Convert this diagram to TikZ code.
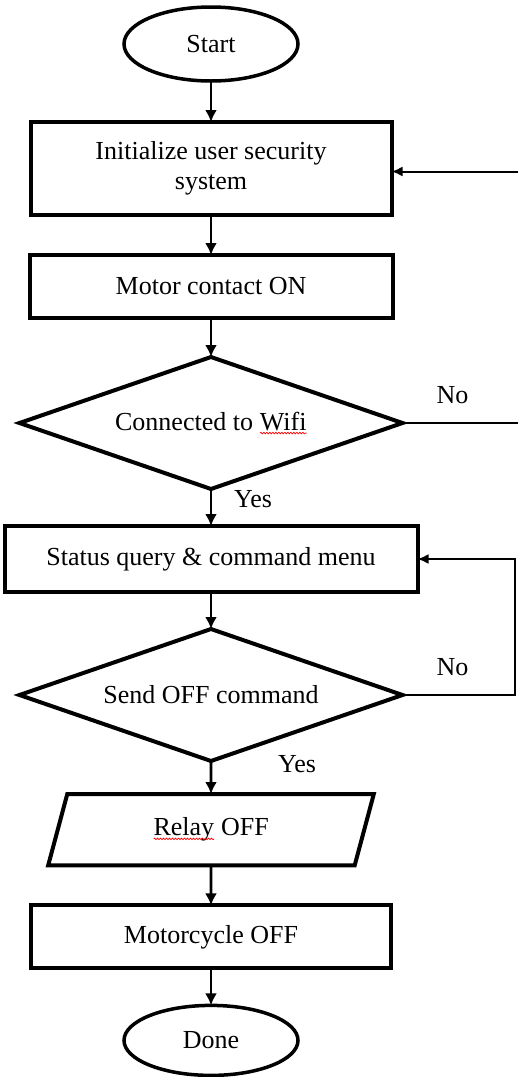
\documentclass[tikz,border=0pt]{standalone}
\usepackage{fontspec}
\setmainfont{Liberation Serif}
\usetikzlibrary{positioning, arrows.meta, shapes.geometric, decorations.pathmorphing}

% red wavy spell-check mark under a word
\newcommand{\spellmark}[1]{\tikz[baseline=(w.base)]{%
    \node[rectangle, draw=none, inner sep=0pt, outer sep=0pt, minimum size=0pt] (w) {#1};
    \draw[red, line width=0.7pt, decorate, decoration={snake, amplitude=0.8pt, segment length=3pt}]
        ([yshift=-3pt]w.base west) -- ([yshift=-3pt]w.base east);}}

\begin{document}
\begin{tikzpicture}[
    font=\fontsize{26}{30}\selectfont,
    node distance=38pt,
    term/.style={
        draw=black, ellipse, line width=3.5pt, outer sep=0pt,
        minimum width=174pt, minimum height=74pt, inner sep=2pt,
    },
    proc/.style={
        draw=black, rectangle, line width=4pt, outer sep=0pt,
        align=center, inner sep=4pt,
    },
    decision/.style={
        draw=black, diamond, aspect=2.9, line width=4pt, outer sep=0pt,
        minimum width=383pt, minimum height=132pt, inner sep=0pt,
    },
    io/.style={
        draw=black, trapezium, trapezium left angle=75, trapezium right angle=105,
        line width=4pt, outer sep=0pt, minimum width=326pt, minimum height=68pt,
    },
    arrow/.style={-{Latex[length=12pt, width=12pt]}, line width=2.6pt},
    back/.style={-{Latex[length=11pt, width=10pt]}, line width=2pt},
    lbl/.style={inner sep=0pt},
]

\useasboundingbox (0,0) rectangle (518pt,-1077pt);

\node[term] (start) at (211pt,-44pt) {Start};
\node[proc, minimum width=361pt, minimum height=93pt, below=41pt of start] (init) {Initialize user security\\system};
\node[proc, minimum width=363pt, minimum height=63pt, below=40pt of init] (motor) {Motor contact ON};
\node[decision, below=39pt of motor] (wifi) {Connected to \spellmark{Wifi}};
\node[proc, minimum width=413pt, minimum height=66pt, below=37pt of wifi] (menu) {Status query \& command menu};
\node[decision, below=37pt of menu] (send) {Send OFF command};
\node[io, below=33pt of send] (relay) {\spellmark{Relay} OFF};
\node[proc, minimum width=360pt, minimum height=63pt, below=40pt of relay] (moto) {Motorcycle OFF};
\node[term, minimum height=70pt, below=37pt of moto] (done) {Done};

\node[lbl, above right=19pt and 34pt of wifi.east] (no1) {No};
\node[lbl, below right=1pt and 23pt of wifi.south] (yes1) {Yes};
\node[lbl, above right=19pt and 34pt of send.east] (no2) {No};
\node[lbl, below right=-6pt and 67pt of send.south] (yes2) {Yes};

\coordinate (rim) at (518pt,0);
\coordinate (rimin) at (515pt,0);
\coordinate (retry) at ([yshift=-3pt]init.east -| rim);
\coordinate (noout) at (wifi.east -| rim);

\draw[arrow] (start) -- (init);
\draw[arrow] (init) -- (motor);
\draw[arrow] (motor) -- (wifi);
\draw[arrow] (wifi) -- (menu);
\draw[arrow] (menu) -- (send);
\draw[arrow] (send) -- (relay);
\draw[arrow] (relay) -- (moto);
\draw[arrow] (moto) -- (done);

\draw[back] (retry) -- (retry -| init.east);
\draw[line width=2pt] (wifi.east) -- (noout);
\draw[back] (send.east) -- (send.east -| rimin) |- (menu.east);

\end{tikzpicture}
\end{document}
